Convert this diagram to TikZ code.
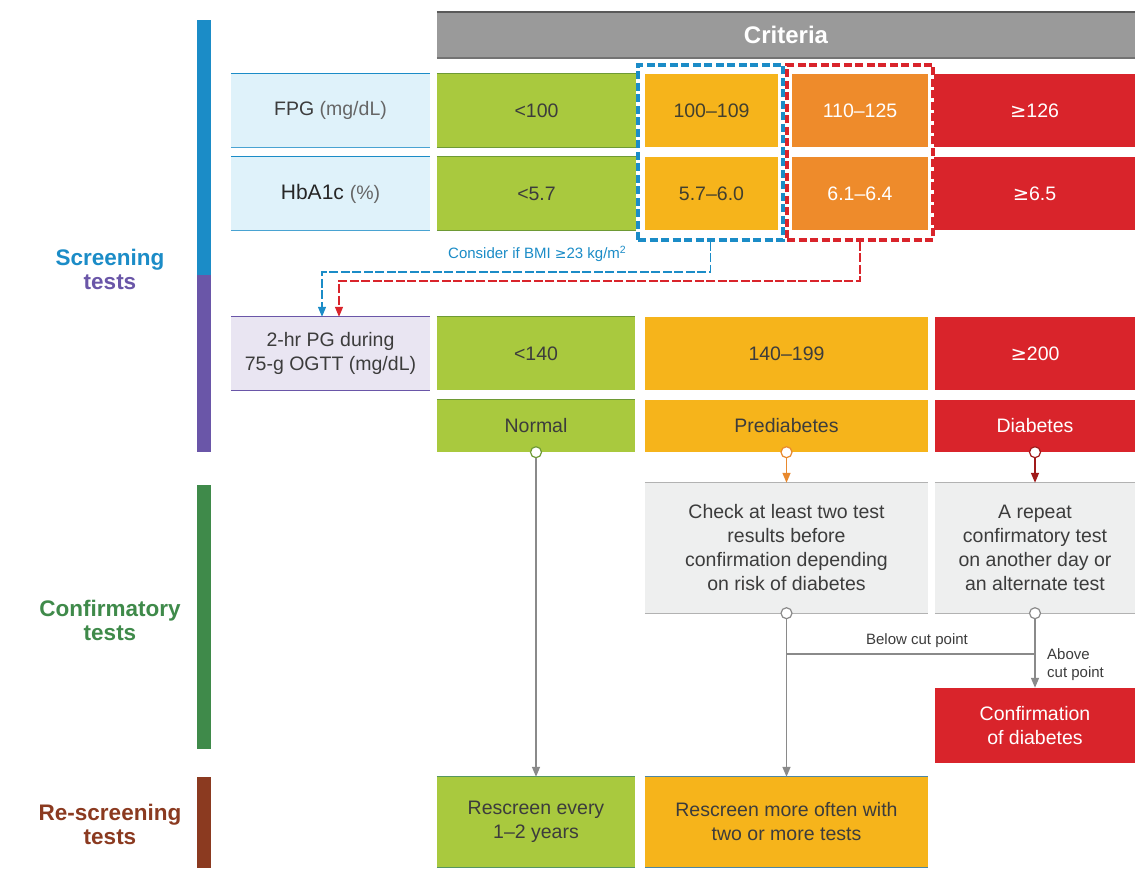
\documentclass[tikz,border=0pt]{standalone}
\usepackage{fontspec}
\setmainfont{Liberation Sans}
\usetikzlibrary{arrows.meta}
\definecolor{cgreen}{HTML}{A9C93E}
\definecolor{cgreenln}{HTML}{6E9A35}
\definecolor{cyel}{HTML}{F6B41B}
\definecolor{corange}{HTML}{EE8B2B}
\definecolor{cred}{HTML}{D9242B}
\definecolor{cgrayh}{HTML}{9A9A9A}
\definecolor{clblue}{HTML}{DFF2FA}
\definecolor{clav}{HTML}{E9E5F2}
\definecolor{clgray}{HTML}{EEEFEF}
\definecolor{cblue}{HTML}{1B8CC7}
\definecolor{cpurple}{HTML}{6A56A8}
\definecolor{cdgreen}{HTML}{3F8A4A}
\definecolor{cbrown}{HTML}{8B3A20}
\definecolor{ctext}{HTML}{3C3C3C}
\definecolor{cline}{HTML}{8A8A8A}
\definecolor{cdred}{HTML}{A01A1A}
\definecolor{corarrow}{HTML}{E8892E}
\begin{document}
\begin{tikzpicture}[x=1pt,y=-1pt,
  cell/.style={rectangle, inner sep=0pt, align=center, text=ctext, font=\fontsize{19.5}{24}\selectfont},
  wcell/.style={cell, text=white},
  side/.style={align=center, font=\bfseries\fontsize{22.5}{24}\selectfont},
  small/.style={font=\fontsize{15}{18}\selectfont, inner sep=0pt},
  dot/.style={circle, fill=white, minimum size=11pt, inner sep=0pt, line width=1.2pt},
  conn/.style={line width=1.4pt, draw=cline},
  tip/.style={-{Triangle[length=10pt,width=8pt]}},
  bar/.style={draw=none, rectangle, inner sep=0pt, minimum width=14pt}
]
\useasboundingbox[fill=white] (0,0) rectangle (1147,882);

% left bars
\node[bar, fill=cblue, minimum height=255pt] (b1) at (204,147.5) {};
\node[bar, fill=cpurple, minimum height=177pt] (b2) at (204,363.5) {};
\node[bar, fill=cdgreen, minimum height=264pt] (b3) at (204,617) {};
\node[bar, fill=cbrown, minimum height=91pt] (b4) at (204,822.5) {};

% left labels
\node[side] (s1) at (110,269) {\textcolor{cblue}{Screening}\\\textcolor{cpurple}{tests}};
\node[side, text=cdgreen] (s2) at (110,620) {Confirmatory\\tests};
\node[side, text=cbrown] (s3) at (110,824) {Re-screening\\tests};

% header
\node[rectangle, fill=cgrayh, minimum width=698pt, minimum height=46pt, inner sep=0pt,
      text=white, font=\bfseries\fontsize{24}{26}\selectfont] (hdr) at (786,35) {Criteria};
\draw[line width=1.5pt, color=black!65] (hdr.north west) -- (hdr.north east);
\draw[line width=1.5pt, color=black!55] (hdr.south west) -- (hdr.south east);

% label boxes
\node[cell, fill=clblue, minimum width=199pt, minimum height=73pt] (fpg) at (330.5,110.5)
  {FPG \textcolor{black!60}{(mg/dL)}};
\node[cell, fill=clblue, minimum width=199pt, minimum height=73pt] (hba) at (330.5,193.5)
  {\fontsize{21}{24}\selectfont\textcolor{black!85}{HbA1c} \fontsize{19.5}{24}\selectfont\textcolor{black!60}{(\%)}};
\foreach \n in {fpg,hba} {
  \draw[cblue, line width=1.2pt] (\n.north west) -- (\n.north east);
  \draw[cblue!80, line width=1.2pt] (\n.south west) -- (\n.south east);
}
\node[cell, fill=clav, minimum width=199pt, minimum height=73pt] (ogtt) at (330.5,353.5)
  {2-hr PG during\\75-g OGTT (mg/dL)};
\draw[cpurple, line width=1pt] (ogtt.north west) -- (ogtt.north east);
\draw[cpurple, line width=1pt] (ogtt.south west) -- (ogtt.south east);

% FPG row
\node[cell, fill=cgreen, minimum width=199pt, minimum height=73pt] (f1) at (536.5,110.5) {<100};
\node[cell, fill=cyel, minimum width=133pt, minimum height=73pt, text=black!70!olive] (f2) at (711.5,110.5) {100\textendash 109};
\node[wcell, fill=corange, minimum width=136pt, minimum height=73pt] (f3) at (860,110.5) {110\textendash 125};
\node[wcell, fill=cred, minimum width=201pt, minimum height=73pt] (f4) at (1034.5,110.5) {{\fontspec{DejaVu Sans}≥}126};
% HbA1c row
\node[cell, fill=cgreen, minimum width=199pt, minimum height=73pt] (h1) at (536.5,193.5) {<5.7};
\node[cell, fill=cyel, minimum width=133pt, minimum height=73pt, text=black!70!olive] (h2) at (711.5,193.5) {5.7\textendash 6.0};
\node[wcell, fill=corange, minimum width=136pt, minimum height=73pt] (h3) at (860,193.5) {6.1\textendash 6.4};
\node[wcell, fill=cred, minimum width=201pt, minimum height=73pt] (h4) at (1034.5,193.5) {{\fontspec{DejaVu Sans}≥}6.5};
\foreach \n in {f1,h1} {
  \draw[cgreenln, line width=1pt] (\n.north west) -- (\n.north east);
  \draw[cgreenln, line width=1pt] (\n.south west) -- (\n.south east);
}

% dashed boxes
\node[rectangle, draw=cblue, line width=4pt, dash pattern=on 8pt off 3.5pt,
      minimum width=145pt, minimum height=175pt, inner sep=0pt] (bbox) at (710.5,152.5) {};
\node[rectangle, draw=cred, line width=4pt, dash pattern=on 8pt off 3.5pt,
      minimum width=146pt, minimum height=175pt, inner sep=0pt] (rbox) at (860,152.5) {};

\node[small, text=cblue, anchor=west] (bmi) at (448,254) {Consider if BMI {\fontspec{DejaVu Sans}\fontsize{14}{16}\selectfont ≥}23 kg/m\textsuperscript{2}};

\draw[cblue, line width=1.2pt, dash pattern=on 9pt off 2.5pt, tip] (bbox.south) -- (bbox.south |- 0,272) -| ([xshift=-8.5pt]ogtt.north);
\draw[cred, line width=1.2pt, dash pattern=on 9pt off 2.5pt, tip] (rbox.south) -- (rbox.south |- 0,281) -| ([xshift=8.5pt]ogtt.north);

% 2-hr PG row
\node[cell, fill=cgreen, minimum width=198pt, minimum height=73pt] (g1) at (536,353.5) {<140};
\node[cell, fill=cyel, minimum width=283pt, minimum height=73pt] (g2) at (786.5,353.5) {140\textendash 199};
\node[wcell, fill=cred, minimum width=200pt, minimum height=73pt] (g3) at (1035,353.5) {{\fontspec{DejaVu Sans}≥}200};
% categories
\node[cell, fill=cgreen, minimum width=198pt, minimum height=52pt] (n1) at (536,426) {Normal};
\node[cell, fill=cyel, minimum width=283pt, minimum height=52pt] (n2) at (786.5,426) {Prediabetes};
\node[wcell, fill=cred, minimum width=200pt, minimum height=52pt] (n3) at (1035,426) {Diabetes};
\foreach \n in {g1,n1} {
  \draw[cgreenln, line width=1pt] (\n.north west) -- (\n.north east);
}

% confirmatory boxes
\node[cell, fill=clgray, minimum width=283pt, minimum height=130pt] (chk) at (786.5,548)
  {Check at least two test\\results before\\confirmation depending\\on risk of diabetes};
\node[cell, fill=clgray, minimum width=200pt, minimum height=130pt] (rep) at (1035,548)
  {A repeat\\confirmatory test\\on another day or\\an alternate test};
\foreach \n in {chk,rep} {
  \draw[black!30, line width=1.2pt] (\n.north west) -- (\n.north east);
  \draw[black!30, line width=1.2pt] (\n.south west) -- (\n.south east);
}
\node[wcell, fill=cred, minimum width=200pt, minimum height=75pt] (conf) at (1035,725.5)
  {Confirmation\\of diabetes};

% rescreen boxes
\node[cell, fill=cgreen, minimum width=198pt, minimum height=90pt] (r1) at (536,822) {Rescreen every\\1\textendash 2 years};
\node[cell, fill=cyel, minimum width=283pt, minimum height=90pt] (r2) at (786.5,822) {Rescreen more often with\\two or more tests};
\draw[cgreenln!70!cblue, line width=1pt] (r1.north west) -- (r1.north east);
\draw[cgreenln!70!cblue, line width=1pt] (r1.south west) -- (r1.south east);
\draw[cblue!50!gray, line width=1pt] (r2.north west) -- (r2.north east);
\draw[cblue!50!gray, line width=1pt] (r2.south west) -- (r2.south east);

% circles
\node[dot, draw=cgreenln] (c1) at (n1.south) {};
\node[dot, draw=corarrow] (c2) at (n2.south) {};
\node[dot, draw=cdred] (c3) at (n3.south) {};
\node[dot, draw=cline] (c4) at (chk.south) {};
\node[dot, draw=cline] (c5) at (rep.south) {};

% connectors
\draw[conn, tip] (c1) -- (r1.north);
\draw[conn, draw=corarrow, tip] (c2) -- (chk.north);
\draw[conn, draw=cdred, tip] (c3) -- (rep.north);
\draw[conn, tip] (c4) -- (r2.north);
\draw[conn, tip] (c5) -- (conf.north);
\coordinate (j1) at (c4 |- 0,654);
\coordinate (j2) at (c5 |- 0,654);
\draw[conn] (j2) -- (j1);
\node[small, text=ctext] (below) at (917,641) {Below cut point};
\node[small, text=ctext, anchor=west, align=left] (above) at (1047,665) {Above\\cut point};
\end{tikzpicture}
\end{document}
